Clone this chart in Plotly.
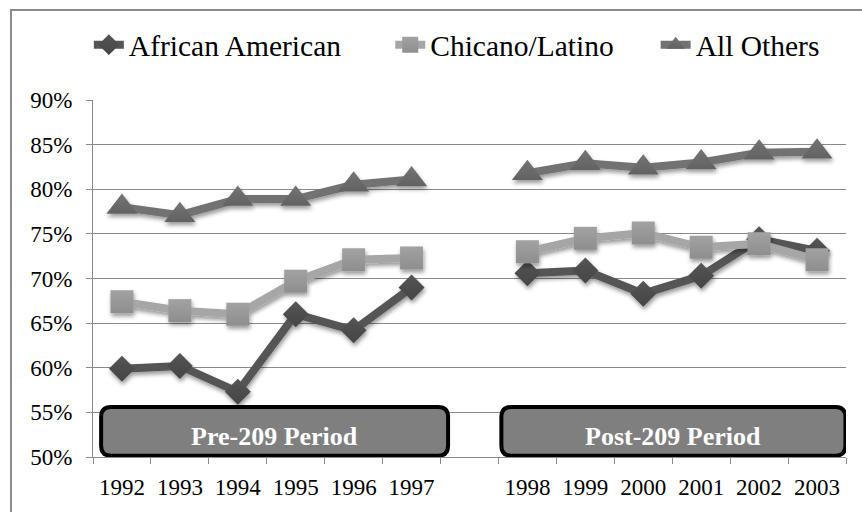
import plotly.graph_objects as go

# ---- data -------------------------------------------------------------
# Admission-year categories; the empty slot separates the two periods.
years = ["1992", "1993", "1994", "1995", "1996", "1997", "",
         "1998", "1999", "2000", "2001", "2002", "2003"]

african_american = [59.9, 60.2, 57.3, 66.0, 64.2, 69.0, None,
                    70.6, 70.9, 68.3, 70.3, 74.4, 73.1]
chicano_latino = [67.4, 66.4, 66.0, 69.7, 72.1, 72.3, None,
                  73.0, 74.5, 75.1, 73.5, 73.9, 72.1]
all_others = [78.0, 77.1, 78.9, 78.9, 80.5, 81.1, None,
              81.8, 82.9, 82.4, 83.0, 84.1, 84.2]

series_names = ["African American", "Chicano/Latino", "All Others"]
period_labels = ["Pre-209 Period", "Post-209 Period"]

y_ticks = [50, 55, 60, 65, 70, 75, 80, 85, 90]
y_tick_labels = ["50%", "55%", "60%", "65%", "70%", "75%", "80%", "85%", "90%"]

# ---- layout constants -------------------------------------------------
W, H = 862, 512
M_L, M_R, M_T, M_B = 93, 16, 100, 55
PLOT_W = W - M_L - M_R
PLOT_H = H - M_T - M_B
X_RANGE = [-0.5, len(years) - 0.5]
Y_RANGE = [50, 90]
px_per_x = PLOT_W / (X_RANGE[1] - X_RANGE[0])
px_per_y = PLOT_H / (Y_RANGE[1] - Y_RANGE[0])

FONT = "Liberation Serif"
GRID = "#8a8a8a"
NBSP = "\u00a0"

xpos = list(range(len(years)))
label_pos = [i for i, y in enumerate(years) if y]
label_txt = [y for y in years if y]
boundaries = [i - 0.5 for i in range(len(years) + 1)]

fig = go.Figure()

styles = [
    (african_american, "#555555", "#454545", "#555555", "diamond", 20, 6),
    (chicano_latino, "#a6a6a6", "#8e8e8e", "#a2a2a2", "square", 23, 5),
    (all_others, "#727272", "#626262", "#747474", "triangle-up", 27, 0),
]
for name, (vals, col, col2, mcol, sym, size, pad) in zip(series_names, styles):
    fig.add_trace(go.Scatter(
        x=xpos, y=vals, name=name + NBSP * pad, mode="lines+markers",
        connectgaps=False,
        line=dict(color=col, width=8),
        marker=dict(symbol=sym, size=size, color=mcol,
                    gradient=dict(type="vertical", color=col2),
                    line=dict(width=0)),
    ))


def rounded_box(x0, x1, y0, y1, r_px=10):
    rx = r_px / px_per_x
    ry = r_px / px_per_y
    return (f"M {x0 + rx},{y0} L {x1 - rx},{y0} Q {x1},{y0} {x1},{y0 + ry} "
            f"L {x1},{y1 - ry} Q {x1},{y1} {x1 - rx},{y1} "
            f"L {x0 + rx},{y1} Q {x0},{y1} {x0},{y1 - ry} "
            f"L {x0},{y0 + ry} Q {x0},{y0} {x0 + rx},{y0} Z")


# period banners, spanning each group of years
boxes = [(-0.36, 5.63), (6.55, 12.49)]
box_y = (50.15, 55.6)
shapes = []
annotations = []
for (bx0, bx1), text in zip(boxes, period_labels):
    shapes.append(dict(type="path", xref="x", yref="y",
                       path=rounded_box(bx0, bx1, box_y[0], box_y[1]),
                       fillcolor="#7f7f7f", line=dict(color="#000000", width=4),
                       layer="above"))
    annotations.append(dict(x=(bx0 + bx1) / 2, y=sum(box_y) / 2,
                            xref="x", yref="y", text=f"<b>{text}</b>",
                            showarrow=False, yshift=-5,
                            font=dict(family=FONT, size=26, color="white")))

# outer chart-area frame
fx0 = (11 - M_L) / PLOT_W
fy1 = (H - M_B - 10) / PLOT_H
shapes.append(dict(type="rect", xref="paper", yref="paper",
                   x0=fx0, x1=1.5, y0=-0.5, y1=fy1,
                   line=dict(color="#8a8a8a", width=2), layer="below"))

fig.update_layout(
    width=W, height=H,
    margin=dict(l=M_L, r=M_R, t=M_T, b=M_B, pad=0),
    paper_bgcolor="white", plot_bgcolor="white",
    font=dict(family=FONT, color="#000000", size=23),
    showlegend=True,
    legend=dict(orientation="h", xref="container", yref="container",
                x=0.53, xanchor="center", y=1 - 45 / H, yanchor="middle",
                font=dict(family=FONT, size=29.5, color="#000000"),
                bgcolor="rgba(0,0,0,0)"),
    shapes=shapes,
    annotations=annotations,
)

fig.update_xaxes(
    range=X_RANGE, tickmode="array", tickvals=label_pos, ticktext=label_txt,
    ticks="", ticklabelstandoff=9,
    tickfont=dict(family=FONT, size=23, color="#000000"),
    showgrid=False, zeroline=False,
    showline=True, linecolor=GRID, linewidth=1,
    minor=dict(tickmode="array", tickvals=boundaries, ticks="outside",
               ticklen=6, tickcolor=GRID, tickwidth=1, showgrid=False),
)
fig.update_yaxes(
    range=Y_RANGE, tickmode="array", tickvals=y_ticks, ticktext=y_tick_labels,
    ticks="outside", ticklen=6, tickcolor=GRID, tickwidth=1,
    ticklabelstandoff=9,
    tickfont=dict(family=FONT, size=23, color="#000000"),
    showgrid=True, gridcolor=GRID, gridwidth=1, zeroline=False,
    showline=True, linecolor=GRID, linewidth=1,
)

# soft drop shadow under the series lines and markers
shadow_js = """
var gd = document.getElementById('{plot_id}');
var svg = gd.querySelector('svg.main-svg');
var ns = 'http://www.w3.org/2000/svg';
var defs = svg.querySelector('defs') || svg.insertBefore(document.createElementNS(ns, 'defs'), svg.firstChild);
var f = document.createElementNS(ns, 'filter');
f.setAttribute('id', 'seriesShadow');
f.setAttribute('x', '-10%'); f.setAttribute('y', '-10%');
f.setAttribute('width', '120%'); f.setAttribute('height', '130%');
var ds = document.createElementNS(ns, 'feDropShadow');
ds.setAttribute('dx', '1'); ds.setAttribute('dy', '3');
ds.setAttribute('stdDeviation', '2');
ds.setAttribute('flood-color', '#000'); ds.setAttribute('flood-opacity', '0.4');
f.appendChild(ds); defs.appendChild(f);
gd.querySelectorAll('.scatterlayer .trace').forEach(function (t) {
  t.setAttribute('filter', 'url(#seriesShadow)');
});
"""

fig.write_html("out.html", post_script=shadow_js)
